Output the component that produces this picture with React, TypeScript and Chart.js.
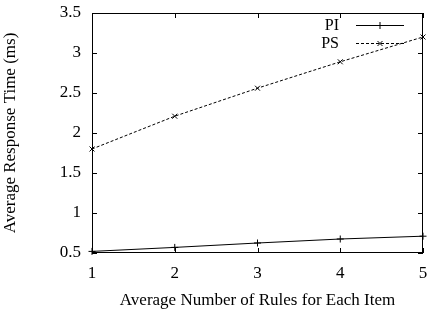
import React, { useEffect, useRef } from "react";
import { Chart, registerables } from "chart.js";

Chart.register(...registerables);

const rules = [1, 2, 3, 4, 5];
const piValues = [0.52, 0.57, 0.625, 0.675, 0.71];
const psValues = [1.8, 2.21, 2.56, 2.89, 3.2];
const seriesNames = ["PI", "PS"];
const xTitle = "Average Number of Rules for Each Item";
const yTitle = "Average Response Time (ms)";

const FONT = "'Liberation Serif', 'DejaVu Serif', serif";

const framePlugin = {
  id: "gnuFrame",
  afterDraw(chart: any) {
    const { ctx, chartArea } = chart;
    const { left, right, top, bottom } = chartArea;
    const xs = chart.scales.x;
    const ys = chart.scales.y;
    ctx.save();
    ctx.strokeStyle = "#000";
    ctx.lineWidth = 1;
    ctx.setLineDash([]);
    ctx.strokeRect(left + 0.5, top + 0.5, right - left - 1, bottom - top - 1);
    const tl = 5;
    ctx.beginPath();
    xs.ticks.forEach((t: any) => {
      const px = Math.round(xs.getPixelForValue(t.value)) + 0.5;
      ctx.moveTo(px, bottom);
      ctx.lineTo(px, bottom - tl);
      ctx.moveTo(px, top);
      ctx.lineTo(px, top + tl);
    });
    ys.ticks.forEach((t: any) => {
      const py = Math.round(ys.getPixelForValue(t.value)) + 0.5;
      ctx.moveTo(left, py);
      ctx.lineTo(left + tl, py);
      ctx.moveTo(right, py);
      ctx.lineTo(right - tl, py);
    });
    ctx.stroke();

    // legend (gnuplot style: text then sample)
    ctx.font = `16px ${FONT}`;
    ctx.fillStyle = "#000";
    ctx.textAlign = "right";
    ctx.textBaseline = "middle";
    const rows = [25, 43];
    const textRight = 339;
    const lineStart = 356;
    const lineEnd = 404;
    const mid = 380;
    chart.data.datasets.forEach((ds: any, i: number) => {
      const y = rows[i] + 0.5;
      ctx.fillText(ds.label, textRight, rows[i] + 1);
      ctx.beginPath();
      ctx.setLineDash(ds.borderDash || []);
      ctx.lineWidth = 1;
      ctx.moveTo(lineStart, y);
      ctx.lineTo(lineEnd, y);
      ctx.stroke();
      ctx.setLineDash([]);
      ctx.beginPath();
      if (ds.pointStyle === "cross") {
        ctx.moveTo(mid - 3.5, y);
        ctx.lineTo(mid + 3.5, y);
        ctx.moveTo(mid, y - 3.5);
        ctx.lineTo(mid, y + 3.5);
      } else {
        ctx.moveTo(mid - 2.5, y - 2.5);
        ctx.lineTo(mid + 2.5, y + 2.5);
        ctx.moveTo(mid - 2.5, y + 2.5);
        ctx.lineTo(mid + 2.5, y - 2.5);
      }
      ctx.stroke();
    });
    ctx.restore();
  },
};

export default function App() {
  const ref = useRef<HTMLCanvasElement | null>(null);
  useEffect(() => {
    document.body.style.margin = "0";
    if (!ref.current) return;
    const chart = new Chart(ref.current, {
      type: "line",
      data: {
        datasets: [
          {
            label: seriesNames[0],
            data: rules.map((x, i) => ({ x, y: piValues[i] })),
            borderColor: "#000",
            backgroundColor: "#000",
            borderWidth: 1,
            pointStyle: "cross",
            pointRadius: 3.5,
            pointBorderWidth: 1,
            pointBorderColor: "#000",
            fill: false,
            tension: 0,
          },
          {
            label: seriesNames[1],
            data: rules.map((x, i) => ({ x, y: psValues[i] })),
            borderColor: "#000",
            backgroundColor: "#000",
            borderWidth: 1,
            borderDash: [3, 2],
            pointStyle: "crossRot",
            pointRadius: 3.5,
            pointBorderWidth: 1,
            pointBorderColor: "#000",
            fill: false,
            tension: 0,
          },
        ],
      },
      options: {
        responsive: false,
        animation: false,
        clip: false as any,
        layout: { padding: { top: 13, right: 3, left: 0, bottom: 0 } },
        plugins: {
          legend: { display: false },
          tooltip: { enabled: false },
        },
        scales: {
          x: {
            type: "linear",
            min: 1,
            max: 5,
            afterFit: (s: any) => {
              s.height = 58;
              s.paddingLeft = 0;
              s.paddingRight = 0;
            },
            grid: { display: false, drawTicks: false },
            border: { display: false },
            ticks: {
              stepSize: 1,
              padding: 10,
              color: "#000",
              font: { family: FONT, size: 17 },
              maxRotation: 0,
            },
            title: {
              display: true,
              text: xTitle,
              color: "#000",
              font: { family: FONT, size: 17 },
              padding: { top: 0, bottom: 0 },
            },
          },
          y: {
            type: "linear",
            min: 0.5,
            max: 3.5,
            afterFit: (s: any) => {
              s.width = 92;
              s.paddingTop = 0;
              s.paddingBottom = 0;
            },
            grid: { display: false, drawTicks: false },
            border: { display: false },
            ticks: {
              stepSize: 0.5,
              padding: 11,
              color: "#000",
              font: { family: FONT, size: 17 },
              callback: (v: any) => String(v),
            },
            title: {
              display: true,
              text: yTitle,
              color: "#000",
              font: { family: FONT, size: 17 },
              padding: { top: 0, bottom: 10 },
            },
          },
        },
      },
      plugins: [framePlugin],
    });
    return () => chart.destroy();
  }, []);
  return (
    <div style={{ width: 428, height: 311 }}>
      <canvas ref={ref} width={428} height={311} style={{ display: "block" }} />
    </div>
  );
}
